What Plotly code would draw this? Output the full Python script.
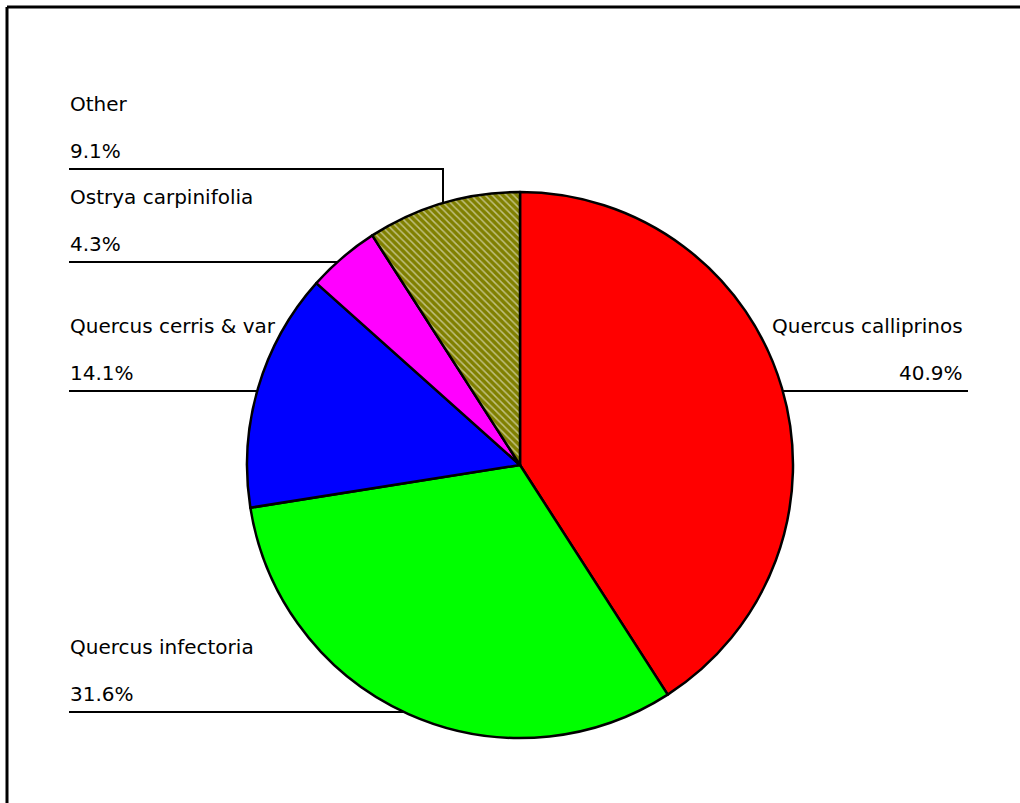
import plotly.graph_objects as go

# Species composition (share of stems, %)
species = ["Quercus calliprinos", "Quercus infectoria", "Quercus cerris & var",
           "Ostrya carpinifolia", "Other"]
shares = [40.9, 31.6, 14.1, 4.3, 9.1]

slice_colors = ["#FF0000", "#00FF00", "#0000FF", "#FF00FF", "#808000"]
slice_patterns = ["", "", "", "", "\\"]

W, H = 1020, 803


def px(x):
    return x / W


def py(y):
    return 1 - y / H


# pie centre and radius in pixels
cx, cy, r = 520, 465, 273

fig = go.Figure(go.Pie(
    labels=species,
    values=shares,
    sort=False,
    direction="clockwise",
    rotation=0,
    textinfo="none",
    hoverinfo="label+percent",
    marker=dict(
        colors=slice_colors,
        line=dict(color="black", width=2.5),
        pattern=dict(shape=slice_patterns, fgcolor="white", fillmode="overlay",
                     size=5, solidity=0.3),
    ),
    domain=dict(x=[px(cx - r), px(cx + r)], y=[py(cy + r), py(cy - r)]),
    showlegend=False,
))

# label layout: side and leader-line y (px)
label_rows = {
    "Other": ("left", 169),
    "Ostrya carpinifolia": ("left", 262),
    "Quercus cerris & var": ("left", 391),
    "Quercus calliprinos": ("right", 391),
    "Quercus infectoria": ("left", 712),
}

font = dict(family="DejaVu Sans", size=20, color="black")
annotations = []
shapes = []
for name, val in zip(species, shares):
    side, ly = label_rows[name]
    if side == "left":
        ax, anchor = px(69), "left"
    else:
        ax, anchor = px(964), "right"
    annotations.append(dict(x=ax, y=py(ly - 65), xref="paper", yref="paper",
                            text=name, showarrow=False, xanchor=anchor,
                            yanchor="middle", font=font, borderpad=0))
    annotations.append(dict(x=ax, y=py(ly - 18), xref="paper", yref="paper",
                            text=f"{val:.1f}%", showarrow=False, xanchor=anchor,
                            yanchor="middle", font=font, borderpad=0))

line_style = dict(color="black", width=2)
# leader lines run under the pie, which hides the inner part
shapes += [
    dict(type="path", xref="paper", yref="paper", layer="below", line=line_style,
         path=f"M {px(69)} {py(169)} L {px(443)} {py(169)} L {px(443)} {py(250)}"),
    dict(type="line", xref="paper", yref="paper", layer="below", line=line_style,
         x0=px(69), x1=px(400), y0=py(262), y1=py(262)),
    dict(type="line", xref="paper", yref="paper", layer="below", line=line_style,
         x0=px(69), x1=px(350), y0=py(391), y1=py(391)),
    dict(type="line", xref="paper", yref="paper", layer="below", line=line_style,
         x0=px(700), x1=px(968), y0=py(391), y1=py(391)),
    dict(type="line", xref="paper", yref="paper", layer="below", line=line_style,
         x0=px(69), x1=px(450), y0=py(712), y1=py(712)),
]

# frame
frame = dict(color="black", width=3)
shapes += [
    dict(type="line", xref="paper", yref="paper", line=frame,
         x0=px(7), x1=px(7), y0=py(7), y1=py(H + 5)),
    dict(type="line", xref="paper", yref="paper", line=frame,
         x0=px(7), x1=px(W + 5), y0=py(7), y1=py(7)),
]

fig.update_layout(
    width=W, height=H,
    margin=dict(l=0, r=0, t=0, b=0),
    paper_bgcolor="white",
    plot_bgcolor="white",
    annotations=annotations,
    shapes=shapes,
)

fig.write_html("out.html")
